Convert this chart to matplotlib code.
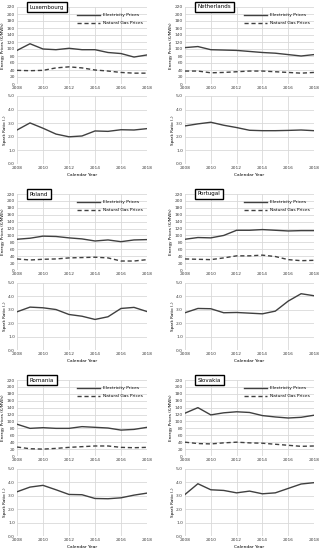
import numpy as np
import matplotlib
matplotlib.use("Agg")
import matplotlib.pyplot as plt

years = list(range(2008, 2019))
countries = ["Luxembourg", "Netherlands", "Poland", "Portugal", "Romania", "Slovakia"]

# electricity prices (EUR/MWh)
elec_lux = [96, 115, 100, 98, 102, 98, 98, 90, 87, 77, 83]
elec_nld = [104, 107, 98, 97, 96, 93, 90, 88, 84, 80, 84]
elec_pol = [89, 92, 98, 97, 93, 90, 84, 87, 82, 87, 88]
elec_prt = [89, 94, 93, 100, 115, 115, 117, 115, 113, 114, 114]
elec_rou = [92, 80, 82, 80, 80, 85, 83, 81, 75, 77, 83]
elec_svk = [124, 140, 119, 125, 128, 126, 117, 113, 110, 112, 118]

# natural gas prices (EUR/MWh)
gas_lux = [39, 38, 39, 46, 49, 46, 40, 37, 33, 31, 31]
gas_nld = [37, 37, 32, 33, 35, 37, 37, 35, 33, 31, 33]
gas_pol = [32, 29, 31, 32, 35, 36, 37, 35, 26, 26, 30]
gas_prt = [32, 31, 30, 35, 41, 41, 43, 39, 30, 27, 28]
gas_rou = [26, 21, 20, 22, 25, 27, 29, 29, 25, 24, 25]
gas_svk = [40, 36, 35, 38, 40, 38, 37, 34, 31, 28, 29]

# spark ratio (-)
spark_lux = [2.5, 3.02, 2.63, 2.2, 2.0, 2.06, 2.43, 2.4, 2.52, 2.5, 2.6]
spark_nld = [2.8, 2.95, 3.07, 2.85, 2.68, 2.48, 2.45, 2.45, 2.47, 2.5, 2.45]
spark_pol = [2.85, 3.2, 3.15, 3.02, 2.65, 2.52, 2.28, 2.48, 3.1, 3.18, 2.87]
spark_prt = [2.78, 3.1, 3.08, 2.78, 2.8, 2.75, 2.7, 2.9, 3.65, 4.2, 4.05]
spark_rou = [3.3, 3.65, 3.78, 3.45, 3.1, 3.08, 2.8, 2.78, 2.85, 3.05, 3.2]
spark_svk = [3.1, 3.9, 3.45, 3.4, 3.22, 3.35, 3.15, 3.22, 3.55, 3.88, 3.98]

elec = [elec_lux, elec_nld, elec_pol, elec_prt, elec_rou, elec_svk]
gas = [gas_lux, gas_nld, gas_pol, gas_prt, gas_rou, gas_svk]
spark = [spark_lux, spark_nld, spark_pol, spark_prt, spark_rou, spark_svk]

W, H = 322, 550
fig = plt.figure(figsize=(W / 100, H / 100), dpi=100)
plt.rcParams['font.family'] = 'DejaVu Sans'

col_x = [(17, 147), (185, 314)]
rows = [((7, 84), (96, 164)), ((194, 270), (283, 350)), ((380, 456), (469, 536))]

lc = '#404040'
gc = '#d9d9d9'
fs = 3.2


def make_ax(x0, x1, y0, y1):
    ax = fig.add_axes([x0 / W, 1 - y1 / H, (x1 - x0) / W, (y1 - y0) / H])
    for s in ax.spines.values():
        s.set_visible(False)
    ax.grid(True, color=gc, lw=0.6)
    ax.set_axisbelow(True)
    ax.tick_params(length=0, labelsize=fs, pad=1.5, colors='#404040')
    ax.set_xlim(2008, 2018)
    ax.set_xticks(range(2008, 2019, 2))
    return ax


for i, name in enumerate(countries):
    r, c = divmod(i, 2)
    x0, x1 = col_x[c]
    (t0, t1), (b0, b1) = rows[r]

    ax = make_ax(x0, x1, t0, t1)
    ax.plot(years, elec[i], color=lc, lw=1.0, label='Electricity Prices')
    ax.plot(years, gas[i], color=lc, lw=1.0, ls=(0, (3, 2)), label='Natural Gas Prices')
    ax.set_ylim(0, 220)
    ax.set_yticks(range(0, 221, 20))
    ax.set_ylabel('Energy Prices (€/MWh)', fontsize=3.0, labelpad=1)
    ax.legend(loc='upper right', frameon=False, fontsize=fs, handlelength=5,
              labelspacing=0.8, bbox_to_anchor=(1.0, 0.97))
    ax.text(0.1, 1.0, name, transform=ax.transAxes, fontsize=4, va='center', ha='left',
            bbox=dict(boxstyle='square,pad=0.5', fc='white', ec='black', lw=1.0))

    ax2 = make_ax(x0, x1, b0, b1)
    ax2.plot(years, spark[i], color=lc, lw=1.0)
    ax2.set_ylim(0, 5)
    ax2.set_yticks(np.arange(0, 5.01, 1.0))
    ax2.set_yticklabels([f'{v:.1f}' for v in np.arange(0, 5.01, 1.0)])
    ax2.set_ylabel('Spark Ratio (-)', fontsize=3.0, labelpad=1)
    ax2.set_xlabel('Calendar Year', fontsize=fs, labelpad=2)

fig.savefig('out.png', dpi=100)
